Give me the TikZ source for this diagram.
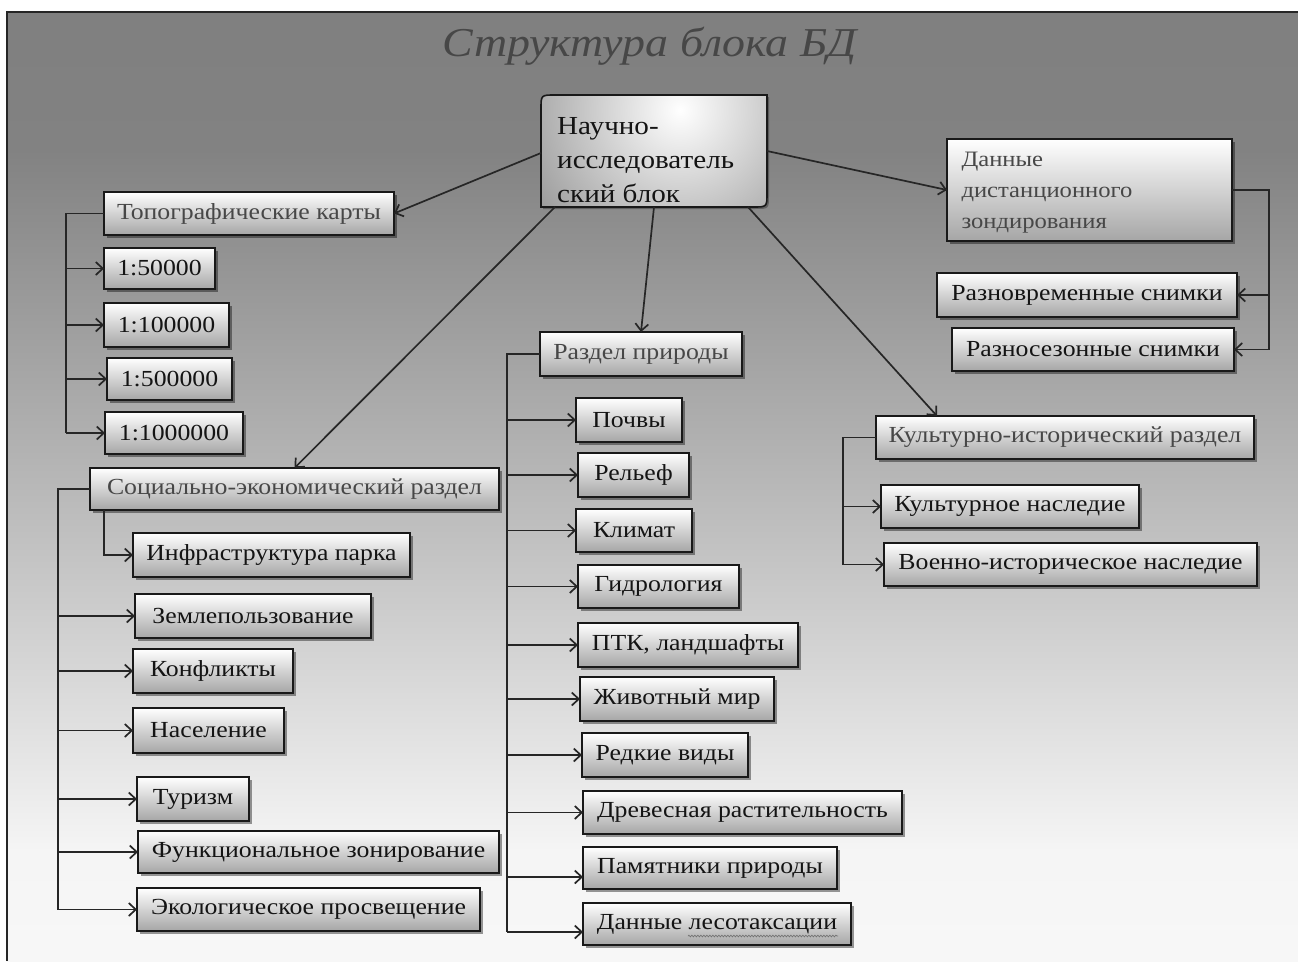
\documentclass[tikz,border=0pt]{standalone}
\usepackage{fontspec}
\setmainfont{Liberation Serif}[FakeStretch=1.12]
\usetikzlibrary{arrows.meta,shadows,decorations.pathmorphing}
\pgfdeclareverticalshading{bgshade}{100bp}{color(0bp)=(black!3); color(25bp)=(black!3); color(30.85bp)=(black!4); color(49.3bp)=(black!27); color(67.75bp)=(black!49); color(75bp)=(black!50); color(100bp)=(black!50)}
\newcommand\bx[7][cbox]{\node[#1,anchor=north west,minimum width={#5pt-#3pt},minimum height={#6pt-#4pt}] (#2) at (#3,#4) {#7};}
\begin{document}
\begin{tikzpicture}[x=1pt,y=-1pt,
  cbox/.style={draw=black!90, line width=1.6pt, top color=white, bottom color=black!35,
    drop shadow={shadow xshift=2.5pt,shadow yshift=-2.5pt,opacity=0.4,fill=black},
    inner sep=0pt, outer sep=0pt, font=\fontsize{23}{26}\selectfont, text=black!92},
  hdr/.style={cbox, text=black!72},
  ln/.style={draw=black!85, line width=1.7pt},
  arr/.style={ln, -{Straight Barb[length=7pt,width=13pt]}}]
\useasboundingbox (0,0) rectangle (1298,961);
\fill[white] (0,0) rectangle (1298,961);
\shade[shading=bgshade] (7,12) rectangle (1298,961);
\draw[line width=1.8pt, black!85] (7,961) -- (7,12) -- (1298,12);
% title
\node[text=black!72, font=\fontsize{41}{46}\selectfont\itshape] (title) at (650,46) {Структура блока БД};
% main block shape
\path[draw=black!90, line width=1.6pt, fill=black!40,
  drop shadow={shadow xshift=2pt,shadow yshift=-2pt,opacity=0.3,fill=black},
  path picture={\shade[inner color=white, outer color=black!40] (680,110) circle (175pt);}]
  (541,109) .. controls (541,95) .. (555,95) -- (767,95) -- (767,193) .. controls (767,207) .. (753,207) -- (541,207) -- cycle;
\node[anchor=north west, inner sep=0pt, outer sep=0pt, minimum width=226pt, minimum height=112pt] (main) at (541,95) {};
\node[anchor=west, inner sep=0pt, align=left, font=\fontsize{26}{34}\selectfont, text=black!92] (maintxt) at (557,160)
  {Научно-\\исследователь\\ский блок};
% boxes
\bx[hdr]{topo}{104}{192}{394}{235}{Топографические карты}
\bx{s1}{104}{248}{215}{289}{1:50000}
\bx{s2}{104}{303}{229}{347}{1:100000}
\bx{s3}{107}{358}{232}{400}{1:500000}
\bx{s4}{105}{412}{243}{454}{1:1000000}
\bx[hdr]{socio}{90}{468}{499}{510}{Социально-экономический раздел}
\bx{infra}{133}{533}{410}{577}{Инфраструктура парка}
\bx{zem}{135}{594}{371}{638}{Землепользование}
\bx{konf}{133}{649}{293}{693}{Конфликты}
\bx{nas}{133}{708}{284}{753}{Население}
\bx{tur}{137}{777}{249}{821}{Туризм}
\bx{func}{138}{831}{499}{873}{Функциональное зонирование}
\bx{eco}{137}{888}{480}{931}{Экологическое просвещение}
\bx[hdr]{prir}{540}{332}{742}{376}{Раздел природы}
\bx{p1}{576}{398}{682}{442}{Почвы}
\bx{p2}{578}{453}{689}{497}{Рельеф}
\bx{p3}{576}{509}{692}{552}{Климат}
\bx{p4}{578}{565}{739}{608}{Гидрология}
\bx{p5}{578}{623}{798}{667}{ПТК, ландшафты}
\bx{p6}{580}{677}{774}{721}{Животный мир}
\bx{p7}{582}{733}{748}{777}{Редкие виды}
\bx{p8}{583}{791}{902}{834}{Древесная растительность}
\bx{p9}{583}{847}{837}{889}{Памятники природы}
\bx{p10}{583}{903}{851}{945}{Данные лесотаксации}
\draw[black!55, line width=0.7pt, decorate, decoration={snake, amplitude=0.8pt, segment length=3pt}]
  ([xshift=105pt,yshift=9pt]p10.south west) -- ([xshift=255pt,yshift=9pt]p10.south west);
\node[hdr, anchor=north west, minimum width=285pt, minimum height=102pt, text width=256pt, align=left,
  font=\fontsize{22}{31}\selectfont] (dist) at (947,139) {\rule{0pt}{20pt}Данные\\дистанционного\\зондирования};
\bx{r1}{937}{273}{1237}{317}{Разновременные снимки}
\bx{r2}{952}{328}{1234}{371}{Разносезонные снимки}
\bx[hdr]{kult}{876}{416}{1254}{459}{Культурно-исторический раздел}
\bx{k1}{881}{485}{1139}{528}{Культурное наследие}
\bx{k2}{884}{543}{1257}{586}{Военно-историческое наследие}
% main connectors
\draw[arr] ([yshift=-2pt]main.west) -- (topo.east);
\draw[arr] (main.east) -- (dist.west);
\draw[arr] ([xshift=14pt]main.south west) -- (socio.north);
\draw[arr] (main.south) -- (prir.north);
\draw[arr] ([xshift=-19pt]main.south east) -- ([xshift=61pt]kult.north west);
% topo bracket
\coordinate (tx) at (66,0);
\draw[ln] (topo.west) -- (tx |- topo.west) -- (tx |- s4.west);
\foreach \n in {s1,s2,s3,s4} \draw[arr] (tx |- \n.west) -- (\n.west);
% socio bracket
\coordinate (sx) at (58,0);
\draw[ln] (socio.west) -- (sx |- socio.west) -- (sx |- eco.west);
\foreach \n in {zem,konf,nas,tur,func,eco} \draw[arr] (sx |- \n.west) -- (\n.west);
\draw[arr] ([xshift=14pt]socio.south west) |- (infra.west);
% nature bracket
\coordinate (px) at (507,0);
\coordinate (p9l) at ([yshift=-9pt]p9.west);
\coordinate (p10l) at ([yshift=-8pt]p10.west);
\draw[ln] (prir.west) -- (px |- prir.west) -- (px |- p10l);
\foreach \n in {p1,p2,p3,p4,p5,p6,p7,p8} \draw[arr] (px |- \n.west) -- (\n.west);
\draw[arr] (px |- p9l) -- (p9l);
\draw[arr] (px |- p10l) -- (p10l);
% remote sensing bracket
\coordinate (dx) at (1269,0);
\draw[ln] (dist.east) -- (dx |- dist.east) -- (dx |- r2.east);
\draw[arr] (dx |- r1.east) -- (r1.east);
\draw[arr] (dx |- r2.east) -- (r2.east);
% culture bracket
\coordinate (kx) at (843,0);
\draw[ln] (kult.west) -- (kx |- kult.west) -- (kx |- k2.west);
\draw[arr] (kx |- k1.west) -- (k1.west);
\draw[arr] (kx |- k2.west) -- (k2.west);
\end{tikzpicture}
\end{document}
